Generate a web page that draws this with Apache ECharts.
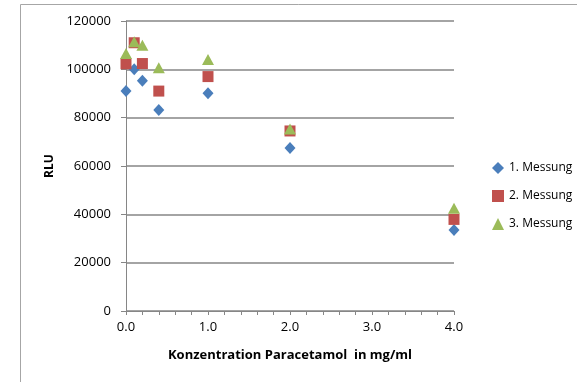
<!DOCTYPE html>
<html><head><meta charset="utf-8">
<script src="https://cdn.jsdelivr.net/npm/echarts@6/dist/echarts.min.js"></script>
<style>html,body{margin:0;padding:0;background:#fff}#c{width:577px;height:382px}</style>
</head><body><div id="c"></div>
<script>
const xValues = [0, 0.1, 0.2, 0.4, 1.0, 2.0, 4.0];
const messung1 = [91000, 100000, 95300, 83200, 90100, 67400, 33500];
const messung2 = [102300, 111000, 102400, 91000, 97000, 74500, 37900];
const messung3 = [106600, 111400, 110000, 100700, 104100, 75300, 42500];
const seriesNames = ['1. Messung', '2. Messung', '3. Messung'];
const xTitle = 'Konzentration Paracetamol  in mg/ml';
const yTitle = 'RLU';

const pairs = arr => xValues.map((x, i) => [x, arr[i]]);
const font = "'Open Sans', sans-serif";
const chart = echarts.init(document.getElementById('c'), null, {renderer: 'canvas'});
chart.setOption({
  animation: false,
  backgroundColor: '#fff',
  grid: {left: 126, top: 21, width: 328, height: 290, containLabel: false},
  graphic: [{
    type: 'polyline', shape: {points: [[20.5, 382], [20.5, 4.5], [577, 4.5]]},
    style: {stroke: '#a6a6a6', lineWidth: 1, fill: null}, silent: true
  }],
  xAxis: {
    type: 'value', min: 0, max: 4, interval: 0.2,
    name: xTitle, nameLocation: 'middle', nameGap: 38,
    nameTextStyle: {fontFamily: font, fontSize: 13, fontWeight: 'bold', color: '#000'},
    axisLine: {show: true, lineStyle: {color: '#868686', width: 1}},
    axisTick: {show: true, length: 4, lineStyle: {color: '#868686'}},
    splitLine: {show: false},
    axisLabel: {
      fontFamily: font, fontSize: 13, color: '#000', margin: 10,
      formatter: v => (Math.abs(v - Math.round(v)) < 1e-6 ? v.toFixed(1) : '')
    }
  },
  yAxis: {
    type: 'value', min: 0, max: 120000, interval: 20000,
    name: yTitle, nameLocation: 'middle', nameGap: 67, nameRotate: 90,
    nameTextStyle: {fontFamily: font, fontSize: 12, fontWeight: 'bold', color: '#000'},
    axisLine: {show: true, lineStyle: {color: '#868686', width: 1}},
    axisTick: {show: true, length: 5, lineStyle: {color: '#868686'}},
    splitLine: {show: true, lineStyle: {color: '#868686', width: 1.5}},
    axisLabel: {fontFamily: font, fontSize: 13, color: '#000', margin: 15,
      formatter: v => String(v)}
  },
  legend: {
    orient: 'vertical', left: 487, top: 157, itemGap: 16,
    itemWidth: 12, itemHeight: 12, itemStyle: {opacity: 1},
    textStyle: {fontFamily: font, fontSize: 12, color: '#000'},
    data: seriesNames
  },
  series: [
    {name: seriesNames[0], type: 'scatter', symbol: 'diamond', symbolSize: [11, 12],
     itemStyle: {color: '#4a7ebb', opacity: 1}, data: pairs(messung1)},
    {name: seriesNames[1], type: 'scatter', symbol: 'rect', symbolSize: 11,
     itemStyle: {color: '#c0504d', opacity: 1}, data: pairs(messung2)},
    {name: seriesNames[2], type: 'scatter', symbol: 'triangle', symbolSize: [12, 11],
     itemStyle: {color: '#9bbb59', opacity: 1}, data: pairs(messung3)}
  ]
});
</script></body></html>
